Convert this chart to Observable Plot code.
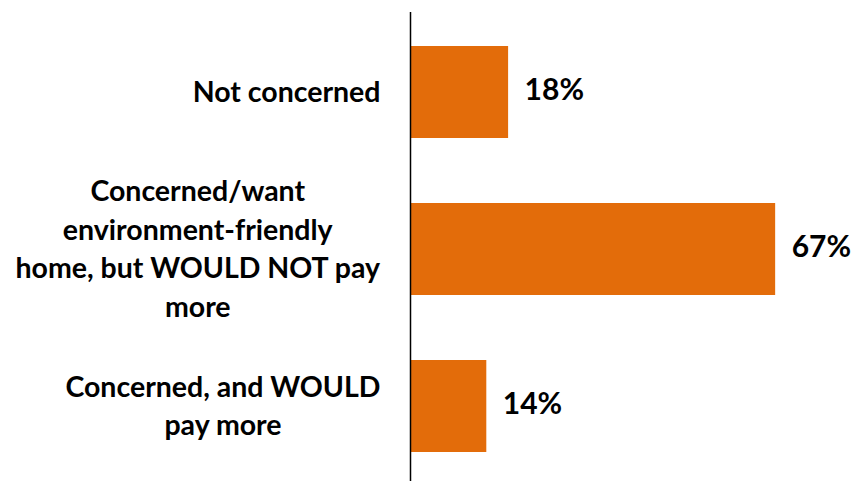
<!DOCTYPE html>
<html>
<head>
<meta charset="utf-8">
<script src="https://cdn.jsdelivr.net/npm/d3@7"></script>
<script src="https://cdn.jsdelivr.net/npm/@observablehq/plot@0.6"></script>
<style>
  html, body { margin: 0; padding: 0; background: #fff; overflow: hidden; }
  #chart svg { display: block; }
</style>
</head>
<body>
<div id="chart"></div>
<script>
const categories = [
  "Not concerned",
  "Concerned/want\nenvironment-friendly\nhome, but WOULD NOT pay\nmore",
  "Concerned, and WOULD\npay more"
];
const values = [18, 67, 14];
const valueLabels = ["18%", "67%", "14%"];

const data = categories.map((c, i) => ({category: c, value: values[i], label: valueLabels[i]}));

const FONT = "Lato, 'Open Sans', sans-serif";

const chart = Plot.plot({
  width: 851,
  height: 485,
  marginLeft: 410,
  marginRight: 5,
  marginTop: 12,
  marginBottom: 0,
  style: {fontFamily: FONT, background: "#fff"},
  x: {domain: [0, 80], axis: null},
  y: {domain: categories, paddingInner: 0.415, paddingOuter: 0.2075, axis: null},
  marks: [
    Plot.barX(data, {x: "value", y: "category", fill: "#E36C0A"}),
    Plot.ruleX([0], {stroke: "#000", strokeWidth: 1.5}),
    Plot.text(data, {
      x: 0, y: "category", text: "category",
      textAnchor: "end", dx: -30, dy: -3, lineAnchor: "middle",
      fontSize: 28.5, fontWeight: "bold", fill: "#000", lineHeight: 1.36,
      className: "cat-label"
    }),
    Plot.text(data, {
      x: "value", y: "category", text: "label",
      textAnchor: "start", dx: 16, dy: -2,
      fontSize: 30, fontWeight: "bold", fill: "#000"
    })
  ]
});

document.getElementById("chart").append(chart);

// center-align the lines of each category label while keeping the block right-aligned
chart.querySelectorAll("g.cat-label text").forEach(t => {
  const w = t.getBBox().width;
  t.setAttribute("text-anchor", "middle");
  t.querySelectorAll("tspan").forEach(ts => ts.setAttribute("x", -w / 2));
  if (!t.querySelector("tspan")) t.setAttribute("x", -w / 2);
});
</script>
</body>
</html>
